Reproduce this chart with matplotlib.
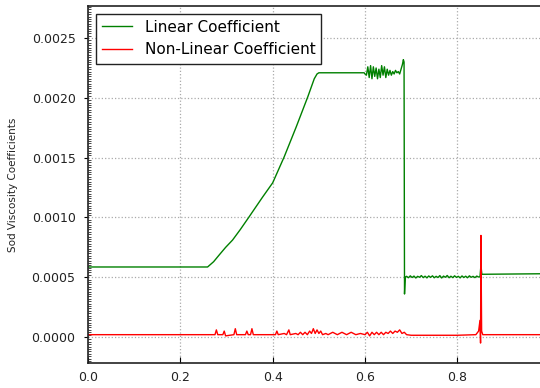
import numpy as np
import matplotlib
matplotlib.use("Agg")
import matplotlib.pyplot as plt
from matplotlib.ticker import MultipleLocator

# Linear (first-order) viscosity coefficient along the tube
lin_x = [0.0, 0.259, 0.272, 0.284, 0.298, 0.313, 0.330, 0.349, 0.378, 0.400,
         0.425, 0.451, 0.476, 0.490, 0.496, 0.500, 0.560, 0.598,
         0.600, 0.603, 0.606, 0.609, 0.612, 0.615, 0.618, 0.621, 0.624, 0.627,
         0.630, 0.633, 0.636, 0.639, 0.642, 0.645, 0.648, 0.651, 0.654, 0.657,
         0.660, 0.663, 0.666, 0.669, 0.672, 0.675, 0.678, 0.681, 0.683, 0.6845,
         0.6855, 0.687,
         0.690, 0.694, 0.698, 0.702, 0.706, 0.710, 0.714, 0.718, 0.722, 0.726,
         0.730, 0.734, 0.738, 0.742, 0.746, 0.750, 0.754, 0.758, 0.762, 0.766,
         0.770, 0.774, 0.778, 0.782, 0.786, 0.790, 0.794, 0.798, 0.802, 0.806,
         0.810, 0.814, 0.818, 0.822, 0.826, 0.830, 0.834, 0.838, 0.842, 0.846,
         0.849, 0.851, 0.853, 1.0]
lin_y = [0.000586, 0.000586, 0.000630, 0.000686, 0.000750, 0.000811, 0.000900,
         0.001006, 0.001170, 0.001290, 0.001508, 0.001758, 0.002009, 0.002160,
         0.002200, 0.002210, 0.002210, 0.002210,
         0.002200, 0.002190, 0.002260, 0.002170, 0.002270, 0.002160, 0.002260,
         0.002180, 0.002250, 0.002160, 0.002240, 0.002170, 0.002270, 0.002190,
         0.002260, 0.002170, 0.002240, 0.002190, 0.002230, 0.002190, 0.002220,
         0.002200, 0.002230, 0.002210, 0.002220, 0.002200, 0.002240, 0.002280,
         0.002320, 0.002300, 0.000360, 0.000500,
         0.000508, 0.000496, 0.000512, 0.000498, 0.000510, 0.000494, 0.000508,
         0.000500, 0.000514, 0.000497, 0.000509, 0.000495, 0.000511, 0.000499,
         0.000512, 0.000496, 0.000508, 0.000498, 0.000514, 0.000494, 0.000510,
         0.000500, 0.000515, 0.000496, 0.000509, 0.000497, 0.000512, 0.000499,
         0.000508, 0.000495, 0.000511, 0.000498, 0.000509, 0.000496, 0.000512,
         0.000500, 0.000508, 0.000497, 0.000510, 0.000502,
         0.000505, 0.000600, 0.000525, 0.000530]

# Non-linear (quadratic) viscosity coefficient
nl_x = [0.0, 0.275, 0.278, 0.281, 0.292, 0.295, 0.298, 0.316, 0.319, 0.322,
        0.341, 0.344, 0.347, 0.352, 0.355, 0.358, 0.380, 0.406, 0.409, 0.412,
        0.425, 0.430, 0.435, 0.438, 0.450, 0.455, 0.460, 0.465, 0.470, 0.475,
        0.480, 0.484, 0.488, 0.492, 0.496, 0.500, 0.504, 0.508, 0.515, 0.520,
        0.530, 0.540, 0.550, 0.560, 0.570, 0.580, 0.590, 0.600, 0.605, 0.610,
        0.615, 0.620, 0.625, 0.630, 0.635, 0.640, 0.645, 0.650, 0.655, 0.660,
        0.665, 0.670, 0.675, 0.680, 0.685, 0.690, 0.700, 0.750, 0.800, 0.840,
        0.846, 0.849, 0.8502, 0.851, 0.8525, 0.855, 1.0]
nl_y = [0.00002, 0.00002, 0.00006, 0.00002, 0.00002, 0.00005, 0.00001, 0.00002,
        0.00007, 0.00002, 0.00002, 0.00005, 0.00002, 0.00002, 0.00007, 0.00002,
        0.00002, 0.00002, 0.00005, 0.00002, 0.00003, 0.00002, 0.00006, 0.00002,
        0.00003, 0.00002, 0.00004, 0.00002, 0.00004, 0.00002, 0.00005, 0.00003,
        0.00007, 0.00003, 0.00006, 0.00003, 0.00005, 0.00002, 0.00003, 0.00002,
        0.00004, 0.00002, 0.00004, 0.00002, 0.00004, 0.00002, 0.00003, 0.00002,
        0.00004, 0.00001, 0.00004, 0.00002, 0.00004, 0.00002, 0.00004, 0.00002,
        0.00004, 0.00003, 0.00005, 0.00003, 0.00005, 0.00004, 0.00006, 0.00003,
        0.00004, 0.00002, 0.000015, 0.000015, 0.000015, 0.00002, 0.00005, 0.00014,
        -0.00005, 0.00085, 0.00005, 0.00002, 0.00002]

x_ticks = [0.0, 0.2, 0.4, 0.6, 0.8]
y_ticks = [0.0, 0.0005, 0.0010, 0.0015, 0.0020, 0.0025]

fig = plt.figure(figsize=(5.4, 3.88), dpi=100)
ax = fig.add_axes([0.163, 0.0644, 0.855, 0.920])

ax.plot(lin_x, lin_y, color='g', linewidth=1.0, label='Linear Coefficient')
ax.plot(nl_x, nl_y, color='r', linewidth=1.0, label='Non-Linear Coefficient')

ax.set_xlim(0.0, 1.0)
ax.set_ylim(-0.000217, 0.002768)
ax.set_xticks(x_ticks)
ax.set_yticks(y_ticks)
ax.set_xticklabels(['%.1f' % v for v in x_ticks], fontsize=9, color='#222222')
ax.set_yticklabels(['%.4f' % v for v in y_ticks], fontsize=9, color='#222222')
ax.yaxis.set_minor_locator(MultipleLocator(0.00002))
ax.tick_params(axis='y', which='major', direction='out', length=3, pad=6)
ax.tick_params(axis='y', which='minor', direction='in', length=2, width=0.5)
ax.tick_params(axis='x', which='major', direction='in', length=4, pad=6)

ax.set_ylabel('Sod Viscosity Coefficients', fontsize=7.5, labelpad=10,
              color='#222222')
ax.grid(True, linestyle=':', color='#aaaaaa', linewidth=0.9)
for s in ax.spines.values():
    s.set_linewidth(1.2)
    s.set_color('#222222')

ax.legend(loc='upper left', fontsize=11, fancybox=False, edgecolor='#222222',
          framealpha=1.0, handlelength=2.0, borderaxespad=0.5)

fig.savefig('out.png', dpi=100)
